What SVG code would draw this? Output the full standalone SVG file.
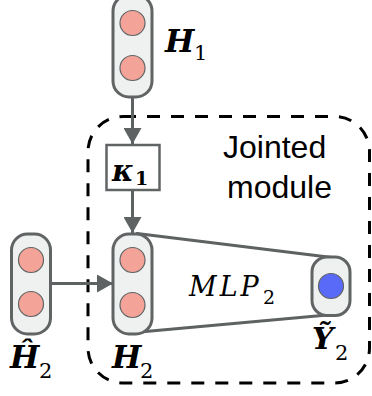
<svg xmlns="http://www.w3.org/2000/svg" width="372" height="396" viewBox="0 0 372 396">
<defs>
<style>
.pill{fill:#eff0f0;stroke:#616465;stroke-width:3}
.red{fill:#f4a398;stroke:#616465;stroke-width:1.2}
.blue{fill:#5a6af8;stroke:#616465;stroke-width:1.2}
.conn{stroke:#5f6263;stroke-width:3;fill:none}
.mlp{stroke:#5f6263;stroke-width:3;fill:none;stroke-linecap:round}
.math{font-family:"DejaVu Serif","Liberation Serif",serif;fill:#000}
.bi{font-weight:bold;font-style:italic;font-size:31px}
.sub{font-size:21px;font-weight:normal;font-style:normal}
.sans{font-family:"Liberation Sans",Arial,sans-serif;font-size:32px;fill:#000}
</style>
<marker id="arr" viewBox="0 0 16 18" refX="16" refY="9" markerWidth="16" markerHeight="18" markerUnits="userSpaceOnUse" orient="auto">
<path d="M0,0 L16,9 L0,18 Z" fill="#5f6263"/>
</marker>
</defs>
<rect id="jointed-module" x="88" y="116.5" width="281.5" height="266.5" rx="35" ry="35" fill="none" stroke="#000" stroke-width="3" stroke-dasharray="13 11"/>
<g id="connectors">
<line class="conn" x1="132.5" y1="97" x2="132.5" y2="144" marker-end="url(#arr)"/>
<line class="conn" x1="132.5" y1="190" x2="132.5" y2="233" marker-end="url(#arr)"/>
<line class="conn" x1="50" y1="283.5" x2="113" y2="283.5" marker-end="url(#arr)"/>
<line class="mlp" x1="137" y1="233.5" x2="336" y2="258"/>
<line class="mlp" x1="140" y1="332" x2="333" y2="314.5"/>
</g>
<g id="H1">
<rect class="pill" x="113" y="-5" width="39" height="102" rx="16"/>
<circle class="red" cx="132.5" cy="23" r="12.5"/>
<circle class="red" cx="132.5" cy="68" r="12.5"/>
<text class="math" x="165" y="52"><tspan class="bi">H</tspan><tspan class="sub" x="194" y="60">1</tspan></text>
</g>
<g id="kappa1">
<rect x="106.5" y="145" width="53" height="45" fill="#fff" stroke="#616465" stroke-width="2.5"/>
<text class="math" x="112" y="181" style="font-weight:bold;font-style:italic;font-size:29px">κ<tspan x="135" y="185" style="font-size:19px;font-style:normal">1</tspan></text>
</g>
<g id="H2hat">
<rect class="pill" x="11.5" y="234" width="39" height="100" rx="16"/>
<circle class="red" cx="31" cy="260" r="12.5"/>
<circle class="red" cx="31" cy="304" r="12.5"/>
<text class="math" x="10" y="368"><tspan class="bi">Ĥ</tspan><tspan class="sub" x="39" y="378">2</tspan></text>
</g>
<g id="H2">
<rect class="pill" x="113" y="234" width="39" height="100" rx="16"/>
<circle class="red" cx="132.5" cy="260" r="12.5"/>
<circle class="red" cx="132.5" cy="305" r="12.5"/>
<text class="math" x="112" y="368"><tspan class="bi">H</tspan><tspan class="sub" x="140" y="378">2</tspan></text>
</g>
<g id="MLP2">
<text class="math" x="189" y="296" style="font-style:italic;font-size:27px;letter-spacing:3px">MLP</text>
<text class="math" x="263" y="304" style="font-size:19px">2</text>
</g>
<g id="Y2">
<rect class="pill" x="312" y="257" width="38" height="58.5" rx="15"/>
<circle class="blue" cx="331" cy="286" r="12.5"/>
<text class="math" x="312" y="349"><tspan class="bi" style="font-size:30px">Ỹ</tspan><tspan class="sub" x="335" y="360">2</tspan></text>
</g>
<g id="label">
<text class="sans" x="223" y="158">Jointed</text>
<text class="sans" x="227" y="198">module</text>
</g>
</svg>
